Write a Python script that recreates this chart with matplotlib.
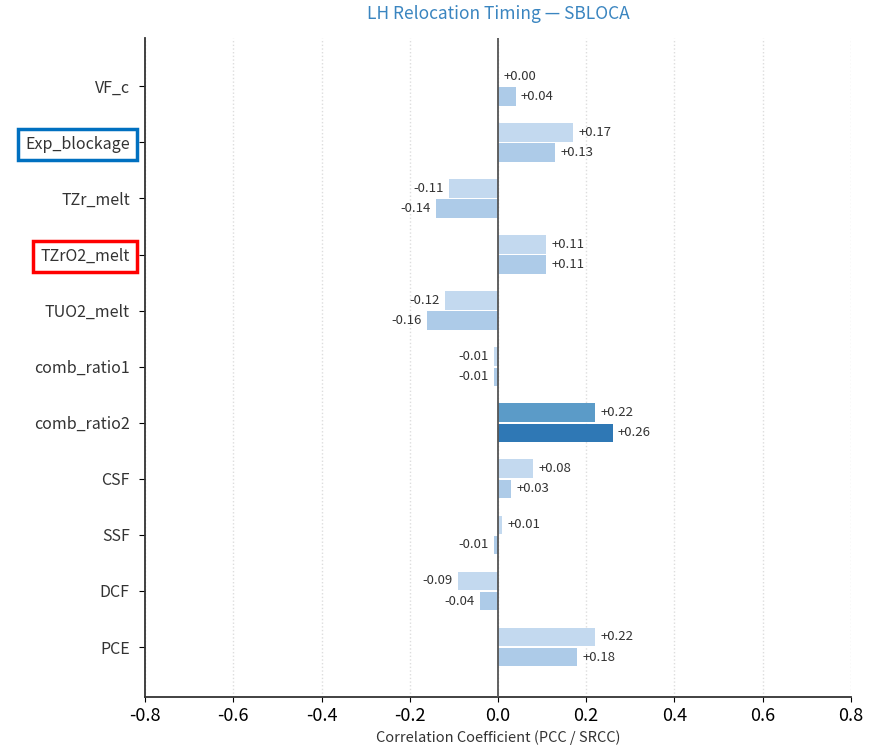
import matplotlib.pyplot as plt
import numpy as np

plt.rcParams['font.family'] = ['Noto Sans CJK KR', 'DejaVu Sans']

parametros = ["VF_c", "Exp_blockage", "TZr_melt", "TZrO2_melt", "TUO2_melt",
              "comb_ratio1", "comb_ratio2", "CSF", "SSF", "DCF", "PCE"]
pcc = [0.00, 0.17, -0.11, 0.11, -0.12, -0.01, 0.22, 0.08, 0.01, -0.09, 0.22]
srcc = [0.04, 0.13, -0.14, 0.11, -0.16, -0.01, 0.26, 0.03, -0.01, -0.04, 0.18]
marcas_x = [-0.8, -0.6, -0.4, -0.2, 0.0, 0.2, 0.4, 0.6, 0.8]
destacado = "comb_ratio2"
cajas = {"Exp_blockage": "#0070c0", "TZrO2_melt": "#ff0000"}

y = np.arange(len(parametros))
alto = 0.33
desp = 0.18

col_pcc = ["#5b9bc8" if p == destacado else "#c3d9ef" for p in parametros]
col_srcc = ["#2f78b5" if p == destacado else "#adcbe8" for p in parametros]

fig, ax = plt.subplots(figsize=(8.69, 7.47), dpi=100)
fig.subplots_adjust(left=0.167, right=0.979, top=0.949, bottom=0.067)

ax.barh(y - desp, pcc, height=alto, color=col_pcc, zorder=2)
ax.barh(y + desp, srcc, height=alto, color=col_srcc, zorder=2)

for yi, v in zip(y - desp, pcc):
    off = 0.012 if v >= 0 else -0.012
    ax.text(v + off, yi, f"{v:+.2f}", va="center", ha="left" if v >= 0 else "right",
            fontsize=9.5, color="#333333")
for yi, v in zip(y + desp, srcc):
    off = 0.012 if v >= 0 else -0.012
    ax.text(v + off, yi, f"{v:+.2f}", va="center", ha="left" if v >= 0 else "right",
            fontsize=9.5, color="#333333")

ax.axvline(0, color="#555555", lw=1.3, zorder=3)
ax.set_xlim(-0.8, 0.8)
ax.set_ylim(len(parametros) - 1 + 0.89, -0.86)
ax.set_xticks(marcas_x)
ax.set_xticklabels([f"{t:.1f}" for t in marcas_x], fontsize=13)
ax.set_yticks(y)
ax.set_yticklabels(parametros, fontsize=11.5, color="#333333")
ax.tick_params(axis="y", length=4, pad=7)
ax.grid(axis="x", linestyle=":", color="#dddddd", lw=1, zorder=0)

for spine in ["top", "right"]:
    ax.spines[spine].set_visible(False)
ax.spines["left"].set_color("#333333")
ax.spines["bottom"].set_color("#333333")
ax.spines["left"].set_linewidth(1.3)
ax.spines["bottom"].set_linewidth(1.3)

for etiqueta in ax.get_yticklabels():
    nombre = etiqueta.get_text()
    if nombre in cajas:
        etiqueta.set_bbox(dict(facecolor="none", edgecolor=cajas[nombre], lw=2.5,
                               boxstyle="square,pad=0.45"))

ax.set_xlabel("Correlation Coefficient (PCC / SRCC)", fontsize=10.5, color="#333333")
ax.set_title("LH Relocation Timing — SBLOCA", fontsize=12.5, color="#3a85c0", pad=14)

plt.savefig("out.png")
